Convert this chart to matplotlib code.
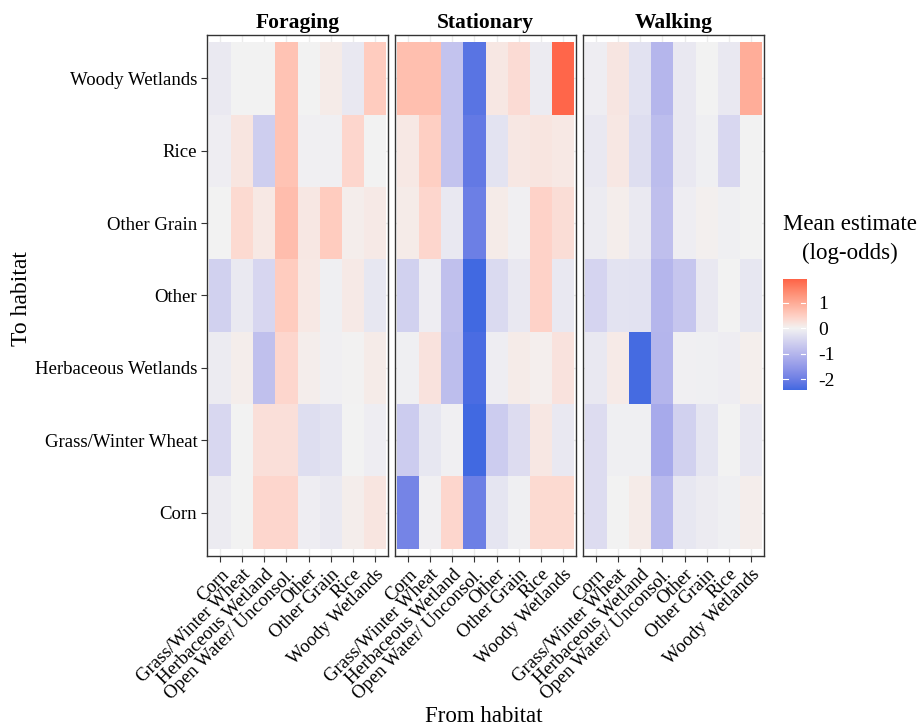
import numpy as np
import matplotlib.pyplot as plt
from matplotlib.colors import ListedColormap, Normalize, to_rgb

plt.rcParams['font.family'] = ['Liberation Serif', 'DejaVu Serif']

habitats = ["Corn", "Grass/Winter Wheat", "Herbaceous Wetland", "Open Water/ Unconsol.",
            "Other", "Other Grain", "Rice", "Woody Wetlands"]
to_habitats = ["Corn", "Grass/Winter Wheat", "Herbaceous Wetlands", "Other",
               "Other Grain", "Rice", "Woody Wetlands"]
behaviours = ["Foraging", "Stationary", "Walking"]

# mean estimates (log-odds); rows = to habitat (Corn at bottom), cols = from habitat
foraging = [
    [-0.11, 0.00, 0.40, 0.40, -0.08, -0.14, 0.08, 0.19],
    [-0.44, 0.00, 0.26, 0.26, -0.33, -0.27, 0.00, -0.08],
    [-0.11, 0.08, -0.83, 0.40, 0.08, -0.04, 0.01, 0.10],
    [-0.55, -0.14, -0.46, 0.54, 0.14, -0.05, 0.13, -0.19],
    [0.00, 0.35, 0.14, 0.75, 0.16, 0.54, 0.08, 0.13],
    [-0.08, 0.19, -0.60, 0.67, -0.04, -0.04, 0.40, 0.00],
    [-0.14, 0.00, 0.00, 0.67, 0.00, 0.10, -0.16, 0.54],
]
stationary = [
    [-1.90, -0.04, 0.40, -2.00, -0.22, -0.05, 0.35, 0.35],
    [-0.63, -0.19, -0.04, -2.42, -0.63, -0.36, 0.15, -0.16],
    [-0.05, 0.22, -0.87, -2.35, -0.08, 0.10, 0.05, 0.22],
    [-0.55, -0.08, -0.83, -2.42, -0.40, -0.16, 0.45, -0.16],
    [0.10, 0.40, -0.16, -2.00, 0.10, -0.04, 0.45, 0.30],
    [0.14, 0.50, -0.78, -2.10, -0.25, 0.16, 0.19, 0.14],
    [0.72, 0.72, -0.78, -2.20, 0.15, 0.32, -0.11, 1.88],
]
walking = [
    [-0.36, 0.00, 0.10, -0.95, -0.19, -0.11, -0.05, 0.08],
    [-0.36, -0.05, -0.05, -1.22, -0.55, -0.22, 0.00, -0.16],
    [-0.16, 0.12, -2.38, -1.02, -0.04, -0.05, -0.08, 0.06],
    [-0.49, -0.25, -0.27, -1.00, -0.73, -0.16, 0.00, -0.19],
    [-0.11, 0.08, -0.14, -0.85, -0.08, 0.04, -0.05, 0.00],
    [-0.16, 0.15, -0.33, -0.89, -0.16, -0.05, -0.44, 0.00],
    [-0.08, 0.18, -0.27, -1.00, -0.16, 0.00, -0.16, 0.97],
]
panels = [foraging, stationary, walking]
cbar_ticks = [1, 0, -1, -2]

vmin, vmax = -2.42, 1.92

# --- diverging palette interpolated in CIE Lab ---
M = np.array([[0.4124, 0.3576, 0.1805],
              [0.2126, 0.7152, 0.0722],
              [0.0193, 0.1192, 0.9505]])
WHITE = np.array([0.95047, 1.0, 1.08883])


def rgb2lab(c):
    c = np.asarray(c, float)
    lin = np.where(c <= 0.04045, c / 12.92, ((c + 0.055) / 1.055) ** 2.4)
    xyz = M @ lin / WHITE
    f = np.where(xyz > 216 / 24389, np.cbrt(xyz), (24389 / 27 * xyz + 16) / 116)
    return np.array([116 * f[1] - 16, 500 * (f[0] - f[1]), 200 * (f[1] - f[2])])


def lab2rgb(lab):
    L, a, b = lab
    fy = (L + 16) / 116
    fx = fy + a / 500
    fz = fy - b / 200
    f = np.array([fx, fy, fz])
    xyz = np.where(f ** 3 > 216 / 24389, f ** 3, (116 * f - 16) / (24389 / 27)) * WHITE
    lin = np.linalg.solve(M, xyz)
    lin = np.clip(lin, 0, 1)
    c = np.where(lin <= 0.0031308, 12.92 * lin, 1.055 * lin ** (1 / 2.4) - 0.055)
    return np.clip(c, 0, 1)


low, mid, high = (rgb2lab(to_rgb(c)) for c in ("#4169E1", "#F2F2F2", "#FF6347"))
colors = []
for v in np.linspace(vmin, vmax, 512):
    if v < 0:
        t = v / vmin
        colors.append(lab2rgb(mid + (low - mid) * t))
    else:
        t = v / vmax
        colors.append(lab2rgb(mid + (high - mid) * t))
cmap = ListedColormap(colors)
norm = Normalize(vmin, vmax)

W, H = 920, 728
fig = plt.figure(figsize=(W / 100, H / 100), dpi=100)


def px_axes(x0, y0, x1, y1):
    return fig.add_axes([x0 / W, 1 - y1 / H, (x1 - x0) / W, (y1 - y0) / H])


lefts = [207, 395, 583]
pw = 181
top, bottom = 35, 556
nx, ny = len(habitats), len(to_habitats)

for i, (name, data) in enumerate(zip(behaviours, panels)):
    ax = px_axes(lefts[i], top, lefts[i] + pw, bottom)
    arr = np.array(data)
    ax.pcolormesh(np.arange(nx + 1) - 0.5, np.arange(ny + 1) - 0.5, arr,
                  cmap=cmap, norm=norm, zorder=2)
    ax.set_xlim(-0.6, nx - 0.4)
    ax.set_ylim(-0.6, ny - 0.4)
    ax.set_xticks(range(nx))
    ax.set_yticks(range(ny))
    ax.grid(True, color="#EBEBEB", lw=1.0, zorder=0)
    ax.set_axisbelow(True)
    ax.set_xticklabels(habitats, rotation=45, ha="right", va="top",
                       rotation_mode="anchor", fontsize=13.5)
    ax.tick_params(colors="#333333", labelcolor="black", length=4, width=0.8, pad=3)
    if i == 0:
        ax.set_yticklabels(to_habitats, fontsize=13.5)
    else:
        ax.set_yticklabels([])
        ax.tick_params(axis="y", length=0)
    for s in ax.spines.values():
        s.set_color("#333333")
        s.set_linewidth(1.0)
    ax.set_title(name, fontsize=15.5, fontweight="bold", pad=5)

fig.text(22 / W, 1 - 299 / H, "To habitat", rotation=90, ha="center", va="center",
         fontsize=17)
fig.text(484 / W, 1 - 716 / H, "From habitat", ha="center", va="center", fontsize=16.5)

# colour bar legend
cax = px_axes(783, 279, 806, 390)
grad = np.linspace(vmin, vmax, 256).reshape(-1, 1)
cax.imshow(grad, cmap=cmap, norm=norm, aspect="auto", origin="lower",
           extent=[0, 1, vmin, vmax])
cax.set_xlim(0, 1)
cax.set_ylim(vmin, vmax)
cax.set_xticks([])
cax.yaxis.tick_right()
cax.set_yticks(cbar_ticks)
cax.set_yticklabels([str(t) for t in cbar_ticks], fontsize=14)
cax.tick_params(axis="y", length=0, pad=9)
for t in cbar_ticks:
    cax.plot([0, 0.2], [t, t], color="white", lw=0.8)
    cax.plot([0.8, 1], [t, t], color="white", lw=0.8)
for s in cax.spines.values():
    s.set_visible(False)
fig.text(850 / W, 1 - 239 / H, "Mean estimate\n(log-odds)", ha="center", va="center",
         fontsize=16.5, linespacing=1.45)

fig.savefig("out.png", dpi=100, facecolor="white")
